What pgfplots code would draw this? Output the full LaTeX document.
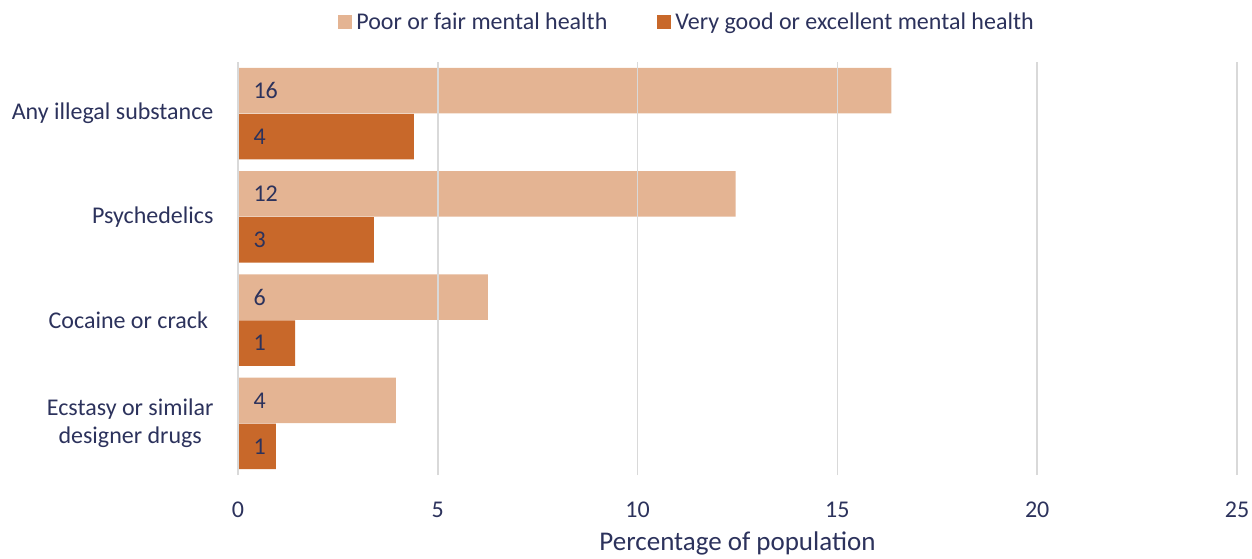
\documentclass[border=0pt]{standalone}
\usepackage{fontspec}
\setmainfont{Carlito}
\usepackage{pgfplots}
\pgfplotsset{compat=1.18}
\definecolor{poor}{RGB}{228,180,147}
\definecolor{good}{RGB}{200,104,42}
\definecolor{txt}{RGB}{44,50,92}
\definecolor{gridc}{RGB}{217,217,217}
\begin{document}
\begin{tikzpicture}
\begin{axis}[
 name=ax, at={(0,0)}, anchor=south west,
 scale only axis, width=999pt, height=413pt,
 xmin=0, xmax=25, ymin=-0.5, ymax=3.5,
 xtick={0,5,10,15,20,25}, ytick={0,1,2,3},
 yticklabels={{Ecstasy or similar\\designer drugs},{Cocaine or crack },Psychedelics,Any illegal substance},
 xmajorgrids, grid style={gridc, line width=1.5pt},
 axis line style={draw=none}, major tick length=0pt,
 axis on top,
 tick label style={font=\fontsize{24}{28}\selectfont, text=txt},
 yticklabel style={align=center, anchor=east, xshift=-21pt},
 xticklabel style={anchor=center, yshift=-35pt},
 /pgf/number format/assume math mode=true,
 xlabel={Percentage of population},
 xlabel style={at={(axis description cs:0.5,0)}, anchor=center, yshift=-68pt, font=\fontsize{27}{32}\selectfont, text=txt},
 xbar, bar width=45.5pt,
 legend columns=2,
 legend image code/.code={\fill[#1] (0pt,-7pt) rectangle (14pt,7pt);},
 legend style={at={(axis description cs:0.4505,1.097)}, anchor=center, draw=none, fill=none,
   font=\fontsize{24}{28}\selectfont, text=txt,
   nodes={inner xsep=4pt},
   /tikz/every even column/.append style={column sep=46pt}},
]
\addplot[fill=poor, draw=none, bar shift=23pt] coordinates {(16.35,3) (12.45,2) (6.25,1) (3.95,0)};
\addlegendentry{Poor or fair mental health}
\addplot[fill=good, draw=none, bar shift=-23pt] coordinates {(4.4,3) (3.4,2) (1.43,1) (0.95,0)};
\addlegendentry{Very good or excellent mental health}
\addplot[xbar, draw=none, fill=none, bar shift=23pt, forget plot, point meta=explicit symbolic,
  nodes near coords, every node near coord/.append style={anchor=west, xshift=12pt, font=\fontsize{24}{28}\selectfont, text=txt}]
  table[x=x, y=y, meta=l] {
x y l
0 3 16
0 2 12
0 1 6
0 0 4
};
\addplot[xbar, draw=none, fill=none, bar shift=-23pt, forget plot, point meta=explicit symbolic,
  nodes near coords, every node near coord/.append style={anchor=west, xshift=12pt, font=\fontsize{24}{28}\selectfont, text=txt}]
  table[x=x, y=y, meta=l] {
x y l
0 3 4
0 2 3
0 1 1
0 0 1
};
\end{axis}
\pgfresetboundingbox
\path[use as bounding box] (-238pt,-84pt) rectangle (1014pt,475pt);
\end{tikzpicture}
\end{document}
